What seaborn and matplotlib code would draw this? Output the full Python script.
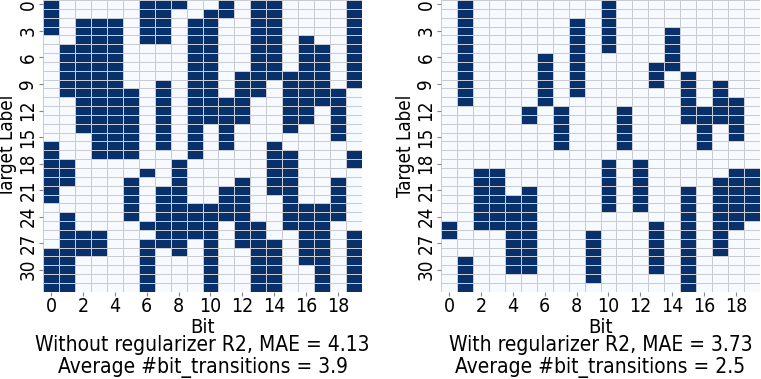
import numpy as np
import pandas as pd
import seaborn as sns
import matplotlib.pyplot as plt

# --- Data: for every bit (column), the runs of target labels where the bit is 1 ---
N_LABELS = 33
N_BITS = 20

runs_without_r2 = [
    [(0, 3), (16, 22), (28, 32)],      # bit 0
    [(5, 10), (18, 20), (24, 32)],     # bit 1
    [(2, 14), (26, 28)],               # bit 2
    [(2, 17), (26, 28)],               # bit 3
    [(2, 17)],                         # bit 4
    [(10, 17), (20, 24)],              # bit 5
    [(0, 4), (19, 19), (25, 25), (27, 32)],  # bit 6
    [(0, 4), (9, 16), (21, 27)],       # bit 7
    [(0, 0), (18, 28)],                # bit 8
    [(2, 17), (23, 26)],               # bit 9
    [(1, 13), (23, 32)],               # bit 10
    [(0, 1), (11, 16), (21, 24)],      # bit 11
    [(8, 13), (20, 27)],               # bit 12
    [(0, 10), (25, 32)],               # bit 13
    [(0, 8), (16, 21), (27, 32)],      # bit 14
    [(8, 14), (17, 25)],               # bit 15
    [(4, 13), (23, 29)],               # bit 16
    [(5, 11), (23, 32)],               # bit 17
    [(10, 15), (20, 24)],              # bit 18
    [(0, 9), (17, 18), (26, 32)],      # bit 19
]

runs_with_r2 = [
    [(25, 26)],                        # bit 0
    [(0, 11), (29, 32)],               # bit 1
    [(19, 25)],                        # bit 2
    [(19, 25)],                        # bit 3
    [(22, 30)],                        # bit 4
    [(12, 13), (21, 30)],              # bit 5
    [(6, 11)],                         # bit 6
    [(12, 16)],                        # bit 7
    [(2, 10)],                         # bit 8
    [(26, 31)],                        # bit 9
    [(0, 5), (18, 23)],                # bit 10
    [(12, 16)],                        # bit 11
    [(18, 23)],                        # bit 12
    [(7, 9), (25, 30)],                # bit 13
    [(3, 7)],                          # bit 14
    [(8, 13), (21, 32)],               # bit 15
    [(12, 16)],                        # bit 16
    [(9, 13), (20, 28)],               # bit 17
    [(11, 15), (19, 25)],              # bit 18
    [(19, 24)],                        # bit 19
]

captions = [
    ("Without regularizer R2, MAE = 4.13", "Average #bit_transitions = 3.9"),
    ("With regularizer R2, MAE = 3.73", "Average #bit_transitions = 2.5"),
]


def runs_to_frame(runs):
    codes = np.zeros((N_LABELS, N_BITS), dtype=int)
    for bit, bit_runs in enumerate(runs):
        for start, end in bit_runs:
            codes[start:end + 1, bit] = 1
    return pd.DataFrame(codes, index=range(N_LABELS), columns=range(N_BITS))


plt.rcParams['font.family'] = ['DejaVu Sans']
plt.rcParams['font.stretch'] = 'condensed'

fig, axes = plt.subplots(1, 2, figsize=(7.61, 3.79), dpi=100)
fig.subplots_adjust(left=0.0565, right=0.9987, top=1.0, bottom=0.23, wspace=0.2476)

for ax, runs, (line1, line2) in zip(axes, [runs_without_r2, runs_with_r2], captions):
    df = runs_to_frame(runs)
    sns.heatmap(df, ax=ax, cmap='Blues', vmin=0, vmax=1, cbar=False,
                linewidths=0.5, linecolor='#c8cbd2',
                xticklabels=2, yticklabels=3)
    ax.tick_params(axis='x', labelsize=14, length=3, color='#888888', pad=1)
    ax.tick_params(axis='y', labelsize=13.5, length=3, color='#888888', pad=1)
    plt.setp(ax.get_xticklabels(), rotation=0)
    plt.setp(ax.get_yticklabels(), rotation=90, va='center')
    ax.set_xlabel('Bit', fontsize=14.5, labelpad=1)
    ax.set_ylabel('Target Label', fontsize=13.5)
    ax.yaxis.set_label_coords(-0.08, 0.5)
    cx = (ax.get_position().x0 + ax.get_position().x1) / 2
    fig.text(cx, 1 - 345 / 379, line1, ha='center', va='center', fontsize=15)
    fig.text(cx, 1 - 367 / 379, line2, ha='center', va='center', fontsize=15)

plt.savefig('out.png', dpi=100)
